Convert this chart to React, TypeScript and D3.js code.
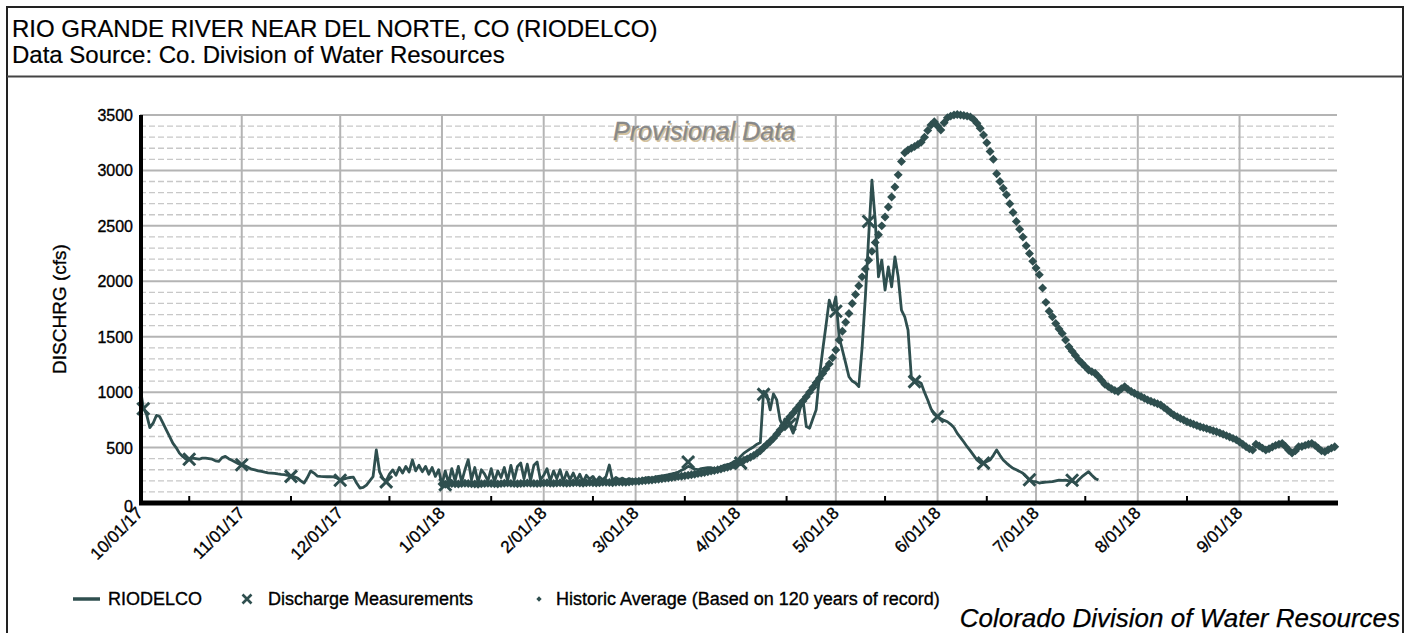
import React from "react";
import * as d3 from "d3";

// tick labels
const monthLabels = ["10/01/17", "11/01/17", "12/01/17", "1/01/18", "2/01/18", "3/01/18", "4/01/18", "5/01/18", "6/01/18", "7/01/18", "8/01/18", "9/01/18"];
const yTicks = [0, 500, 1000, 1500, 2000, 2500, 3000, 3500];

// RIODELCO daily values, one array per month
const rioOct = [1050, 860, 800, 680, 720, 790, 780, 720, 660, 600, 540, 500, 450, 420, 395, 390, 405, 400, 395, 405, 405, 400, 395, 380, 375, 410, 420, 400, 385, 370, 355];
const rioNov = [343, 335, 320, 305, 298, 290, 285, 278, 272, 270, 268, 262, 258, 255, 250, 240, 235, 225, 200, 180, 230, 289, 270, 243, 240, 238, 237, 237, 236, 225];
const rioDec = [207, 215, 225, 230, 234, 180, 135, 140, 162, 200, 237, 478, 280, 220, 200, 260, 298, 250, 320, 270, 330, 280, 388, 290, 340, 282, 330, 260, 320, 240, 300];
const rioJan = [165, 290, 180, 310, 200, 330, 190, 300, 390, 210, 320, 185, 300, 260, 200, 310, 190, 290, 230, 320, 200, 340, 210, 330, 360, 220, 350, 200, 340, 370, 210];
const rioFeb = [250, 310, 200, 290, 220, 300, 190, 280, 210, 270, 200, 260, 190, 250, 215, 240, 195, 235, 210, 240, 343, 200, 230, 210, 225, 205, 220, 210];
const rioMar = [210, 205, 215, 225, 230, 222, 235, 240, 245, 250, 255, 262, 270, 280, 295, 310, 330, 320, 305, 300, 310, 315, 320, 318, 310, 305, 325, 340, 345, 355, 375];
const rioApr = [380, 420, 450, 470, 490, 508, 530, 545, 1010, 975, 840, 985, 930, 750, 690, 745, 700, 630, 720, 840, 930, 690, 675, 760, 840, 1140, 1380, 1600, 1830, 1740];
const rioMay = [1860, 1500, 1380, 1262, 1139, 1100, 1082, 1050, 1400, 1860, 2400, 2912, 2550, 2040, 2191, 1920, 2130, 1950, 2221, 2040, 1740, 1680, 1560, 1139, 1110, 1095, 1080, 1000, 929, 850, 800];
const rioJun = [778, 760, 745, 733, 710, 680, 628, 590, 550, 508, 470, 430, 388, 365, 360, 375, 388, 430, 478, 430, 388, 360, 335, 313, 300, 285, 268, 240, 207, 195];
const rioJul = [192, 180, 185, 188, 190, 192, 200, 207, 205, 207, 200, 195, 177, 210, 237, 260, 282, 250, 222, 207];

// Historic average daily values
const histJan = [172, 170, 174, 176, 173, 171, 175, 178, 176, 174, 172, 170, 173, 175, 177, 176, 174, 172, 175, 178, 180, 177, 175, 173, 176, 178, 180, 179, 177, 175, 178];
const histFeb = [180, 182, 179, 177, 180, 183, 181, 178, 180, 182, 184, 181, 179, 182, 185, 183, 180, 182, 186, 188, 185, 183, 187, 190, 188, 186, 190, 193];
const histMar = [195, 197, 200, 203, 205, 208, 212, 215, 218, 222, 226, 230, 234, 238, 242, 246, 250, 255, 260, 265, 270, 276, 282, 288, 294, 300, 307, 315, 323, 332, 342];
const histApr = [360, 372, 385, 398, 412, 428, 448, 472, 500, 528, 555, 583, 620, 658, 698, 738, 778, 812, 848, 884, 920, 958, 1000, 1042, 1084, 1126, 1169, 1210, 1255, 1310];
const histMay = [1380, 1470, 1550, 1630, 1710, 1800, 1880, 1960, 2040, 2110, 2190, 2270, 2350, 2420, 2500, 2580, 2670, 2760, 2850, 2960, 3080, 3160, 3185, 3200, 3215, 3235, 3255, 3300, 3360, 3410, 3440];
const histJun = [3400, 3365, 3430, 3475, 3490, 3500, 3505, 3500, 3495, 3490, 3483, 3460, 3425, 3380, 3320, 3250, 3170, 3100, 2970, 2900, 2840, 2780, 2700, 2620, 2540, 2470, 2400, 2320, 2250, 2180];
const histJul = [2120, 2060, 1940, 1810, 1730, 1680, 1620, 1570, 1530, 1470, 1410, 1370, 1330, 1290, 1260, 1230, 1200, 1185, 1170, 1140, 1105, 1070, 1050, 1030, 1015, 1005, 1030, 1050, 1025, 1005, 990];
const histAug = [975, 960, 945, 930, 918, 906, 895, 884, 862, 840, 815, 793, 778, 763, 748, 733, 722, 710, 699, 688, 680, 671, 662, 652, 643, 632, 620, 608, 596, 583, 570];
const histSep = [550, 530, 508, 490, 478, 530, 515, 495, 478, 490, 505, 520, 530, 538, 510, 475, 450, 470, 508, 510, 520, 530, 538, 520, 495, 470, 463, 480, 495, 508];

// discharge measurements [date, cfs]
const measurements: [string, number][] = [
  ["2017-10-02", 850], ["2017-10-16", 395], ["2017-11-01", 345], ["2017-11-16", 240],
  ["2017-12-01", 205], ["2017-12-15", 190], ["2018-01-02", 165], ["2018-03-17", 370],
  ["2018-04-02", 360], ["2018-04-09", 980], ["2018-04-17", 710], ["2018-05-01", 1730],
  ["2018-05-11", 2540], ["2018-05-25", 1095], ["2018-06-01", 780], ["2018-06-15", 360],
  ["2018-06-29", 210], ["2018-07-12", 205],
];

type Pt = { date: Date; v: number };
const month = (y: number, m: number, vals: number[]): Pt[] =>
  vals.map((v, i) => ({ date: new Date(Date.UTC(y, m, i + 1)), v }));

const rio: Pt[] = [
  ...month(2017, 9, rioOct), ...month(2017, 10, rioNov), ...month(2017, 11, rioDec),
  ...month(2018, 0, rioJan), ...month(2018, 1, rioFeb), ...month(2018, 2, rioMar),
  ...month(2018, 3, rioApr), ...month(2018, 4, rioMay), ...month(2018, 5, rioJun),
  ...month(2018, 6, rioJul),
];
const hist: Pt[] = [
  ...month(2018, 0, histJan), ...month(2018, 1, histFeb), ...month(2018, 2, histMar),
  ...month(2018, 3, histApr), ...month(2018, 4, histMay), ...month(2018, 5, histJun),
  ...month(2018, 6, histJul), ...month(2018, 7, histAug), ...month(2018, 8, histSep),
];

const COLOR = "#2f4f4f";
const FONT = "'Liberation Sans', Arial, sans-serif";
// slight stroke so the text looks as heavy as the original rendering
const ink = { fill: "#000", stroke: "#000", strokeWidth: 0.35 };

export default function App() {
  const left = 140, right = 1338, top = 115, bottom = 503;
  const x = d3.scaleUtc()
    .domain([new Date(Date.UTC(2017, 9, 1)), new Date(Date.UTC(2018, 9, 1))])
    .range([left, right]);
  const y = d3.scaleLinear().domain([0, 3500]).range([bottom, top]);

  const months = d3.utcMonth.range(new Date(Date.UTC(2017, 9, 1)), new Date(Date.UTC(2018, 9, 1)));
  const midMonths = months.map((m) => d3.utcDay.offset(m, 15));
  const minor = d3.range(100, 3500, 100).filter((v) => v % 500 !== 0);

  const line = d3.line<Pt>().x((d) => x(d.date)).y((d) => y(d.v));
  const diamond = d3.symbol(d3.symbolSquare, 40)()!;
  const cross = d3.symbol(d3.symbolX, 95)()!;

  return (
    <svg width={1406} height={633} style={{ position: "absolute", left: 0, top: 0, background: "#fff" }} fontFamily={FONT}>
      {/* frame */}
      <rect x={7} y={7} width={1396} height={660} fill="none" stroke="#222" strokeWidth={2} />
      <line x1={7} x2={1403} y1={76.5} y2={76.5} stroke="#444" strokeWidth={2} />
      <text x={12} y={37} fontSize={24} {...ink} strokeWidth={0.2}>RIO GRANDE RIVER NEAR DEL NORTE, CO (RIODELCO)</text>
      <text x={12} y={63} fontSize={24} {...ink} strokeWidth={0.2}>Data Source: Co. Division of Water Resources</text>

      {/* grid */}
      {minor.map((v) => (
        <line key={"mn" + v} x1={left} x2={right - 1} y1={y(v)} y2={y(v)} stroke="#c8c8c8" strokeWidth={1.3} strokeDasharray="6,3" />
      ))}
      {yTicks.filter((v) => v > 0).map((v) => (
        <line key={"mj" + v} x1={left} x2={right - 1} y1={y(v)} y2={y(v)} stroke="#b4b4b4" strokeWidth={2} />
      ))}
      {months.slice(1).map((m, i) => (
        <line key={"vg" + i} x1={x(m)} x2={x(m)} y1={top} y2={bottom} stroke="#b4b4b4" strokeWidth={2} />
      ))}

      {/* watermark */}
      <text x={614.5} y={141.5} fontSize={25} fontStyle="italic" fill="#d6c4a0">Provisional Data</text>
      <text x={613} y={140} fontSize={25} fontStyle="italic" fill="#888" stroke="#888" strokeWidth={0.3}>Provisional Data</text>

      {/* series */}
      <path d={line(rio)!} fill="none" stroke={COLOR} strokeWidth={2.8} strokeLinejoin="round" />
      {hist.map((d, i) => (
        <path key={"h" + i} d={diamond} transform={`translate(${x(d.date)},${y(d.v)}) rotate(45)`} fill={COLOR} />
      ))}
      {measurements.map(([dt, v], i) => (
        <path key={"m" + i} d={cross} transform={`translate(${x(new Date(dt + "T00:00:00Z"))},${y(v)})`} fill="none" stroke={COLOR} strokeWidth={3} />
      ))}

      {/* axes */}
      <line x1={left + 1} x2={left + 1} y1={top} y2={bottom + 2} stroke="#000" strokeWidth={4} />
      <line x1={left - 1} x2={right} y1={bottom} y2={bottom} stroke="#000" strokeWidth={5} />
      {midMonths.map((m, i) => (
        <line key={"t" + i} x1={x(m)} x2={x(m)} y1={bottom} y2={bottom - 7} stroke="#000" strokeWidth={2} />
      ))}
      {yTicks.map((v) => (
        <text key={"yl" + v} x={133} y={y(v) + (v === 0 ? 9 : 6)} fontSize={16} textAnchor="end" {...ink}>{v}</text>
      ))}
      {months.map((m, i) => (
        <text key={"xl" + i} transform={`translate(${x(m) + 4},${bottom + 11}) rotate(-45)`} fontSize={17} textAnchor="end" {...ink}>
          {monthLabels[i]}
        </text>
      ))}
      <text transform={`translate(66,${(top + bottom) / 2}) rotate(-90)`} fontSize={19} textAnchor="middle" {...ink}>DISCHRG (cfs)</text>

      {/* legend */}
      <line x1={73} x2={100} y1={599} y2={599} stroke={COLOR} strokeWidth={3.5} />
      <text x={108} y={605} fontSize={18} {...ink}>RIODELCO</text>
      <path d={cross} transform="translate(247,599) scale(0.75)" fill="none" stroke={COLOR} strokeWidth={3.5} />
      <text x={268} y={605} fontSize={18} {...ink}>Discharge Measurements</text>
      <path d={diamond} transform="translate(539,599) rotate(45) scale(0.6)" fill={COLOR} />
      <text x={556} y={605} fontSize={18} {...ink}>Historic Average (Based on 120 years  of record)</text>

      <text x={1400} y={627} fontSize={26} fontStyle="italic" textAnchor="end" {...ink} strokeWidth={0.25}>Colorado Division of Water Resources</text>
    </svg>
  );
}
